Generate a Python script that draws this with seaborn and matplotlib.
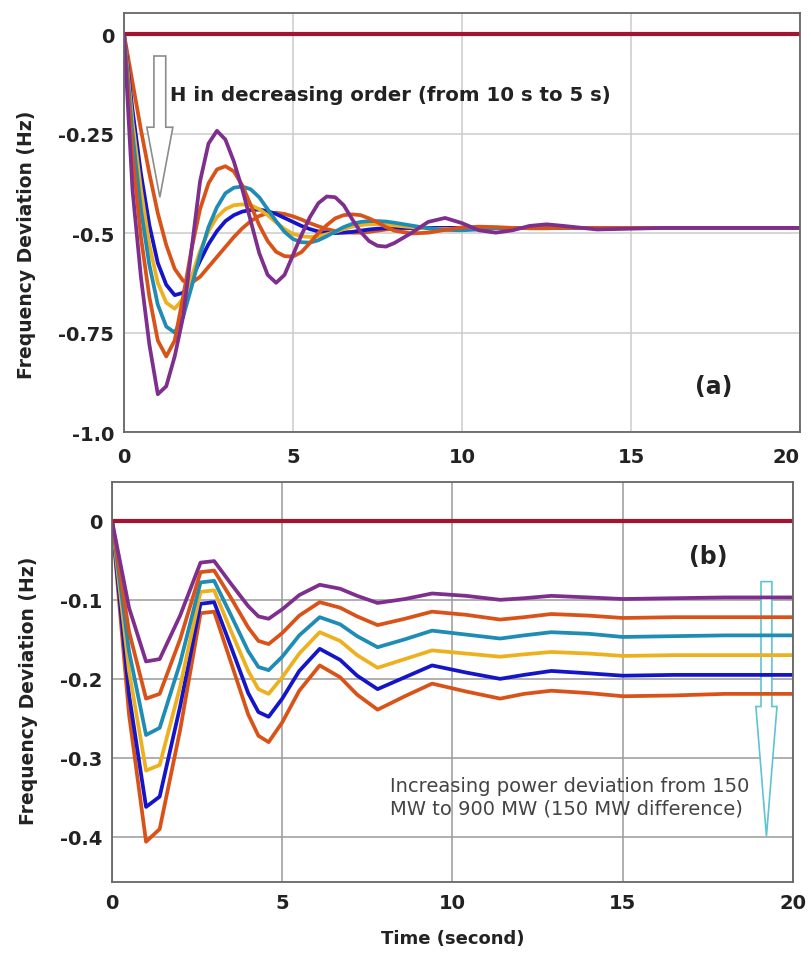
import pandas as pd
import matplotlib.pyplot as plt
from matplotlib.patches import FancyArrow
import seaborn as sns

# ---- panel (a): inertia H from 10 s down to 5 s ----
t_a = [0, 0.25, 0.5, 0.75, 1.0, 1.25, 1.5, 1.75, 2.0, 2.25, 2.5, 2.75, 3.0, 3.25, 3.5, 3.75,
       4.0, 4.25, 4.5, 4.75, 5.0, 5.25, 5.5, 5.75, 6.0, 6.25, 6.5, 6.75, 7.0, 7.25, 7.5, 7.75,
       8.0, 8.5, 9.0, 9.5, 10.0, 10.5, 11.0, 11.5, 12.0, 12.5, 13.0, 14, 15, 16, 17, 18, 19, 20]
h10 = [0, -0.12, -0.24, -0.35, -0.45, -0.53, -0.59, -0.62, -0.625, -0.61, -0.585, -0.56, -0.535, -0.51, -0.488, -0.47,
       -0.457, -0.45, -0.449, -0.452, -0.458, -0.466, -0.475, -0.483, -0.49, -0.495, -0.498, -0.499, -0.499, -0.497, -0.494, -0.491,
       -0.489, -0.488, -0.487, -0.487, -0.487, -0.487, -0.487, -0.487, -0.487, -0.487, -0.487, -0.487, -0.487, -0.487, -0.487, -0.487, -0.487, -0.487]
h9 = [0, -0.19, -0.35, -0.48, -0.575, -0.63, -0.656, -0.65, -0.615, -0.57, -0.528, -0.495, -0.47, -0.455, -0.446, -0.442,
      -0.441, -0.445, -0.452, -0.462, -0.472, -0.482, -0.49, -0.496, -0.499, -0.5, -0.499, -0.497, -0.494, -0.491, -0.489, -0.488,
      -0.487, -0.487, -0.487, -0.487, -0.487, -0.487, -0.487, -0.487, -0.487, -0.487, -0.487, -0.487, -0.487, -0.487, -0.487, -0.487, -0.487, -0.487]
h8 = [0, -0.22, -0.39, -0.53, -0.625, -0.675, -0.69, -0.665, -0.61, -0.545, -0.495, -0.46, -0.44, -0.43, -0.428, -0.43,
      -0.44, -0.455, -0.473, -0.49, -0.502, -0.508, -0.51, -0.508, -0.503, -0.497, -0.49, -0.484, -0.48, -0.478, -0.478, -0.479,
      -0.481, -0.485, -0.489, -0.49, -0.489, -0.488, -0.487, -0.487, -0.487, -0.487, -0.487, -0.487, -0.487, -0.487, -0.487, -0.487, -0.487, -0.487]
h7 = [0, -0.25, -0.44, -0.58, -0.68, -0.735, -0.75, -0.71, -0.635, -0.555, -0.485, -0.435, -0.40, -0.386, -0.383, -0.39,
      -0.41, -0.44, -0.47, -0.497, -0.515, -0.523, -0.524, -0.518, -0.508, -0.496, -0.485, -0.477, -0.472, -0.47, -0.47, -0.471,
      -0.474, -0.481, -0.488, -0.492, -0.493, -0.491, -0.488, -0.487, -0.487, -0.487, -0.487, -0.487, -0.487, -0.487, -0.487, -0.487, -0.487, -0.487]
h6 = [0, -0.30, -0.51, -0.66, -0.77, -0.81, -0.77, -0.66, -0.54, -0.44, -0.375, -0.34, -0.332, -0.345, -0.38, -0.43,
      -0.48, -0.52, -0.547, -0.558, -0.559, -0.548, -0.525, -0.50, -0.48, -0.463, -0.455, -0.453, -0.455, -0.463, -0.473, -0.485,
      -0.494, -0.501, -0.499, -0.492, -0.486, -0.484, -0.485, -0.487, -0.488, -0.488, -0.487, -0.487, -0.487, -0.487, -0.487, -0.487, -0.487, -0.487]
h5 = [0, -0.39, -0.61, -0.78, -0.905, -0.885, -0.81, -0.71, -0.54, -0.37, -0.275, -0.243, -0.265, -0.32, -0.39, -0.47,
      -0.55, -0.605, -0.625, -0.605, -0.555, -0.505, -0.46, -0.425, -0.408, -0.41, -0.43, -0.465, -0.497, -0.52, -0.532, -0.534,
      -0.525, -0.50, -0.472, -0.462, -0.475, -0.493, -0.499, -0.493, -0.482, -0.478, -0.482, -0.491, -0.489, -0.487, -0.487, -0.487, -0.487, -0.487]

# ---- panel (b): power step from 150 MW to 900 MW ----
t_b = [0, 0.5, 1.0, 1.4, 2.0, 2.6, 3.0, 3.5, 4.0, 4.3, 4.6, 5.0, 5.5, 6.1, 6.7, 7.2, 7.8, 8.6,
       9.4, 10.4, 11.4, 12.1, 12.9, 14.0, 15.0, 16.5, 18.0, 20.0]
p150 = [0, -0.11, -0.178, -0.175, -0.12, -0.053, -0.051, -0.08, -0.108, -0.121, -0.124, -0.112, -0.094, -0.081,
        -0.086, -0.095, -0.104, -0.099, -0.092, -0.095, -0.100, -0.098, -0.095, -0.097, -0.099, -0.098, -0.097, -0.097]
p300 = [0, -0.14, -0.225, -0.219, -0.15, -0.065, -0.063, -0.098, -0.135, -0.152, -0.156, -0.142, -0.120, -0.103,
        -0.110, -0.121, -0.132, -0.124, -0.115, -0.119, -0.125, -0.122, -0.118, -0.12, -0.123, -0.122, -0.122, -0.122]
p450 = [0, -0.165, -0.271, -0.262, -0.18, -0.078, -0.076, -0.12, -0.165, -0.185, -0.189, -0.172, -0.145, -0.122,
        -0.131, -0.146, -0.160, -0.150, -0.139, -0.144, -0.149, -0.145, -0.141, -0.143, -0.147, -0.146, -0.145, -0.145]
p600 = [0, -0.19, -0.316, -0.309, -0.21, -0.09, -0.088, -0.14, -0.19, -0.213, -0.219, -0.198, -0.168, -0.141,
        -0.152, -0.170, -0.186, -0.175, -0.164, -0.168, -0.172, -0.169, -0.166, -0.168, -0.171, -0.170, -0.170, -0.170]
p750 = [0, -0.22, -0.362, -0.349, -0.235, -0.105, -0.103, -0.16, -0.218, -0.242, -0.248, -0.225, -0.19, -0.162,
        -0.176, -0.196, -0.213, -0.198, -0.183, -0.192, -0.200, -0.195, -0.190, -0.193, -0.196, -0.195, -0.195, -0.195]
p900 = [0, -0.245, -0.406, -0.39, -0.265, -0.117, -0.115, -0.18, -0.245, -0.272, -0.280, -0.255, -0.215, -0.183,
        -0.198, -0.22, -0.239, -0.222, -0.206, -0.216, -0.225, -0.219, -0.215, -0.218, -0.222, -0.221, -0.219, -0.219]

# nominal (zero deviation) reference line
zero_t = [0, 20]
zero_v = [0, 0]

ORANGE, BLUE, YELLOW, TEAL, PURPLE = "#D95319", "#1414C8", "#EDB120", "#1E8CB4", "#7E2F8E"
ZERO = "#A2142F"

series_a = {"H=10": h10, "H=9": h9, "H=8": h8, "H=7": h7, "H=6": h6, "H=5": h5}
pal_a = {"H=10": ORANGE, "H=9": BLUE, "H=8": YELLOW, "H=7": TEAL, "H=6": ORANGE, "H=5": PURPLE}
series_b = {"900": p900, "750": p750, "600": p600, "450": p450, "300": p300, "150": p150}
pal_b = {"900": ORANGE, "750": BLUE, "600": YELLOW, "450": TEAL, "300": ORANGE, "150": PURPLE}


def long_form(t, series):
    frames = [pd.DataFrame({"t": t, "v": v, "curve": k}) for k, v in series.items()]
    return pd.concat(frames, ignore_index=True)


df_a = long_form(t_a, series_a)
df_b = long_form(t_b, series_b)

sns.set_theme(style="whitegrid")
plt.rcParams["font.family"] = ["DejaVu Sans"]

fig = plt.figure(figsize=(8.11, 9.54), dpi=100)
ax1 = fig.add_axes([0.1529, 0.5461, 0.8335, 0.4392])
ax2 = fig.add_axes([0.1381, 0.0744, 0.8397, 0.4193])

sns.lineplot(data=df_a, x="t", y="v", hue="curve", hue_order=list(series_a), palette=pal_a,
             linewidth=2.7, legend=False, ax=ax1, solid_joinstyle="round")
sns.lineplot(x=zero_t, y=zero_v, color=ZERO, linewidth=3, ax=ax1)
sns.lineplot(data=df_b, x="t", y="v", hue="curve", hue_order=list(series_b), palette=pal_b,
             linewidth=2.7, legend=False, ax=ax2, solid_joinstyle="round")
sns.lineplot(x=zero_t, y=zero_v, color=ZERO, linewidth=3, ax=ax2)

ax1.set_ylim(-1.0, 0.053)
ax1.set_yticks([0, -0.25, -0.5, -0.75, -1.0])
ax1.set_yticklabels(["0", "-0.25", "-0.5", "-0.75", "-1.0"])
ax2.set_ylim(-0.457, 0.049)
ax2.set_yticks([0, -0.1, -0.2, -0.3, -0.4])
ax2.set_yticklabels(["0", "-0.1", "-0.2", "-0.3", "-0.4"])

for ax, gcol, pad in [(ax1, "#cccccc", 11), (ax2, "#9a9a9a", 8)]:
    ax.set_xlim(0, 20)
    ax.set_xticks([0, 5, 10, 15, 20])
    ax.set_xticklabels(["0", "5", "10", "15", "20"])
    ax.grid(True, color=gcol, linewidth=1.1)
    ax.set_facecolor("white")
    for s in ax.spines.values():
        s.set_color("#666666")
        s.set_linewidth(1.3)
    ax.tick_params(axis="both", length=0, labelsize=14, labelcolor="#222222")
    ax.tick_params(axis="x", pad=pad)
    ax.tick_params(axis="y", pad=7)
    for lab in ax.get_xticklabels() + ax.get_yticklabels():
        lab.set_fontweight("bold")
    ax.set_ylabel("Frequency Deviation (Hz)", fontsize=13.5, fontweight="bold", color="#222222")
    ax.set_xlabel("")

# keep the last top-panel tick label inside the figure
ax1.get_xticklabels()[-1].set_horizontalalignment("right")

ax1.yaxis.set_label_coords(-0.13, 0.45)
ax2.yaxis.set_label_coords(-0.108, 0.48)
ax2.set_xlabel("Time (second)", fontsize=13, fontweight="bold", color="#222222", labelpad=12)

# annotations panel (a)
ax1.add_patch(FancyArrow(1.06, -0.055, 0, -0.355, width=0.35, head_width=0.77, head_length=0.176,
                         length_includes_head=True, facecolor="white", edgecolor="#8c8c8c", linewidth=1.2))
ax1.text(1.36, -0.151, "H in decreasing order (from 10 s to 5 s)", fontsize=14.2, fontweight="bold",
         color="#222222", ha="left", va="center")
ax1.text(17.46, -0.884, "(a)", fontsize=17, fontweight="bold", color="#222222", ha="center", va="center")

# annotations panel (b)
ax2.add_patch(FancyArrow(19.22, -0.077, 0, -0.322, width=0.32, head_width=0.62, head_length=0.164,
                         length_includes_head=True, facecolor="white", edgecolor="#5cc4d4", linewidth=1.2))
ax2.text(17.5, -0.044, "(b)", fontsize=17, fontweight="bold", color="#222222", ha="center", va="center")
ax2.text(8.16, -0.349, "Increasing power deviation from 150\nMW to 900 MW (150 MW difference)",
         fontsize=14, color="#444444", ha="left", va="center", linespacing=1.2)

fig.savefig("out.png", dpi=100)
